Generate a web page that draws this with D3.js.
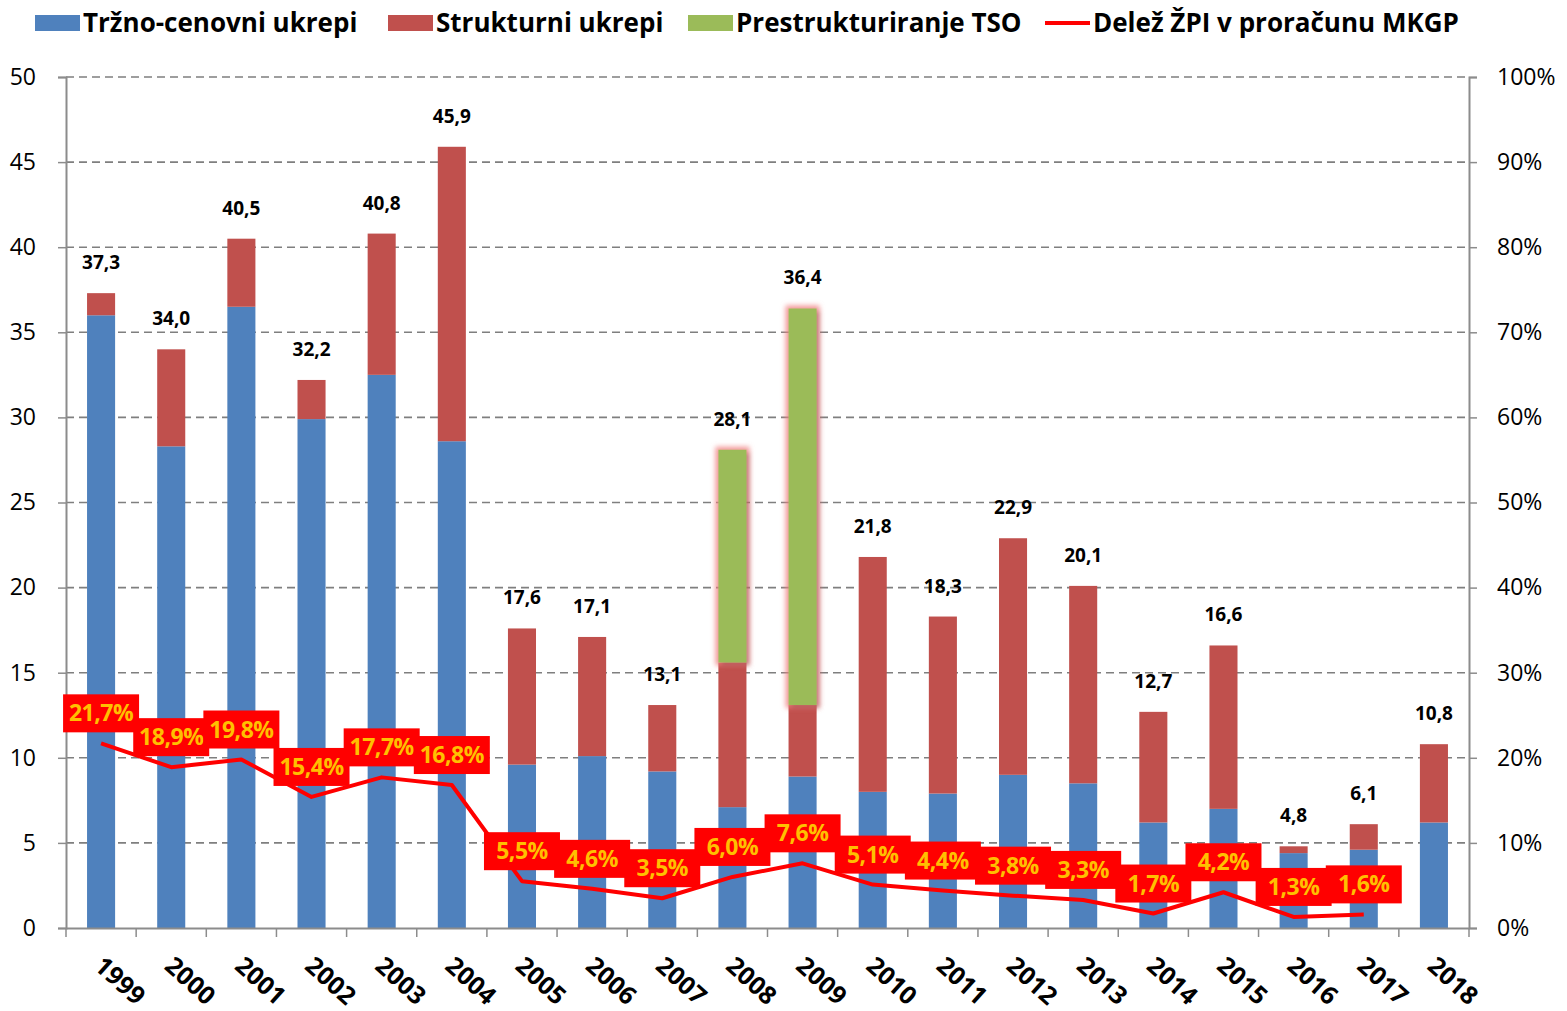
<!DOCTYPE html>
<html>
<head>
<meta charset="utf-8">
<script src="https://cdnjs.cloudflare.com/ajax/libs/d3/7.8.5/d3.min.js"></script>
<style>
  body { margin: 0; background: #fff; }
  text { font-family: "Open Sans", "DejaVu Sans Condensed", sans-serif; }
</style>
</head>
<body>
<div id="chart"></div>
<script>
// data
var years = ["1999","2000","2001","2002","2003","2004","2005","2006","2007","2008","2009",
             "2010","2011","2012","2013","2014","2015","2016","2017","2018"];
var trzno = [36.0, 28.3, 36.5, 29.9, 32.5, 28.6, 9.6, 10.1, 9.2, 7.1, 8.9,
             8.0, 7.9, 9.0, 8.5, 6.2, 7.0, 4.4, 4.6, 6.2];
var totals = [37.3, 34.0, 40.5, 32.2, 40.8, 45.9, 17.6, 17.1, 13.1, 28.1, 36.4,
              21.8, 18.3, 22.9, 20.1, 12.7, 16.6, 4.8, 6.1, 10.8];
var tso = [0, 0, 0, 0, 0, 0, 0, 0, 0, 12.5, 23.3, 0, 0, 0, 0, 0, 0, 0, 0, 0];
var delez = [21.7, 18.9, 19.8, 15.4, 17.7, 16.8, 5.5, 4.6, 3.5, 6.0, 7.6,
             5.1, 4.4, 3.8, 3.3, 1.7, 4.2, 1.3, 1.6, null];
var leftTicks = [0, 5, 10, 15, 20, 25, 30, 35, 40, 45, 50];
var rightTicks = [0, 10, 20, 30, 40, 50, 60, 70, 80, 90, 100];

var colors = { trzno: "#4F81BD", strukt: "#C0504D", tso: "#9BBB59", line: "#FF0000" };

// build stacked rows
var rows = years.map(function(y, i) {
  var strukt = +(totals[i] - trzno[i] - tso[i]).toFixed(1);
  return { year: y, trzno: trzno[i], strukt: strukt, tso: tso[i], total: totals[i], delez: delez[i] };
});

var margin = {top: 77, right: 98, bottom: 83, left: 66},
    width = 1567 - margin.left - margin.right,
    height = 1011 - margin.top - margin.bottom;

var svgRoot = d3.select("#chart").append("svg")
  .attr("width", 1567)
  .attr("height", 1011);

// glow + shadow for the TSO bars
var defs = svgRoot.append("defs");
var f = defs.append("filter").attr("id", "glow")
  .attr("x", "-60%").attr("y", "-10%").attr("width", "220%").attr("height", "120%");
f.append("feMorphology").attr("in", "SourceAlpha").attr("operator", "dilate").attr("radius", 3).attr("result", "dil");
f.append("feGaussianBlur").attr("in", "dil").attr("stdDeviation", 2.5).attr("result", "blur");
f.append("feFlood").attr("flood-color", "#F08080").attr("flood-opacity", 0.8);
f.append("feComposite").attr("in2", "blur").attr("operator", "in").attr("result", "pink");
f.append("feOffset").attr("in", "SourceAlpha").attr("dx", 3).attr("dy", 3).attr("result", "off");
f.append("feGaussianBlur").attr("in", "off").attr("stdDeviation", 2).attr("result", "offBlur");
f.append("feFlood").attr("flood-color", "#000").attr("flood-opacity", 0.35);
f.append("feComposite").attr("in2", "offBlur").attr("operator", "in").attr("result", "shadow");
var fm = f.append("feMerge");
fm.append("feMergeNode").attr("in", "pink");
fm.append("feMergeNode").attr("in", "shadow");
fm.append("feMergeNode").attr("in", "SourceGraphic");

var svg = svgRoot.append("g")
  .attr("transform", "translate(" + margin.left + "," + margin.top + ")");

// scales
var x = d3.scaleBand().domain(years).range([0, width]).paddingInner(0.6).paddingOuter(0.3);
var band = d3.scaleBand().domain(years).range([0, width]);
var y = d3.scaleLinear().domain([0, 50]).range([height, 0]);
var y2 = d3.scaleLinear().domain([0, 100]).range([height, 0]);

// dashed grid
svg.append("g")
  .selectAll("line")
  .data(leftTicks.filter(function(d) { return d > 0; }))
  .enter().append("line")
  .attr("x1", 0).attr("x2", width)
  .attr("y1", function(d) { return y(d); })
  .attr("y2", function(d) { return y(d); })
  .attr("stroke", "#7f7f7f")
  .attr("stroke-width", 1.6)
  .attr("stroke-dasharray", "8,5");

// stacked bars
var stack = d3.stack().keys(["trzno", "strukt", "tso"]);
var series = stack(rows);

svg.append("g")
  .selectAll("g")
  .data(series)
  .enter().append("g")
  .attr("fill", function(d) { return colors[d.key]; })
  .attr("filter", function(d) { return d.key == "tso" ? "url(#glow)" : null; })
  .selectAll("rect")
  .data(function(d) { return d.filter(function(s) { return s[1] - s[0] > 0; }); })
  .enter().append("rect")
  .attr("x", function(d) { return x(d.data.year); })
  .attr("width", x.bandwidth())
  .attr("y", function(d) { return y(d[1]); })
  .attr("height", function(d) { return y(d[0]) - y(d[1]); });

// total labels over bars
svg.append("g")
  .selectAll("text")
  .data(rows)
  .enter().append("text")
  .attr("x", function(d) { return x(d.year) + x.bandwidth() / 2; })
  .attr("y", function(d) { return y(d.total) - 24; })
  .attr("text-anchor", "middle")
  .style("font-size", "19px")
  .style("font-weight", "bold")
  .text(function(d) { return d.total.toFixed(1).replace(".", ","); });

// axes
var xAxis = svg.append("g")
  .attr("transform", "translate(0," + height + ")")
  .call(d3.axisBottom(band).tickSize(0).tickFormat(""));
xAxis.select(".domain").attr("stroke", "#8c8c8c").attr("stroke-width", 2);
// tick marks on band edges
xAxis.selectAll(".edge")
  .data(years.concat(["end"]))
  .enter().append("line")
  .attr("x1", function(d, i) { return i * band.step(); })
  .attr("x2", function(d, i) { return i * band.step(); })
  .attr("y1", 0).attr("y2", 9)
  .attr("stroke", "#8c8c8c")
  .attr("stroke-width", 1.5);

svg.append("g")
  .selectAll("text")
  .data(years)
  .enter().append("text")
  .attr("transform", function(d) {
    return "translate(" + (band(d) + band.bandwidth() / 2 - 8) + "," + (height + 40) + ") rotate(42)";
  })
  .style("font-size", "25px")
  .style("font-weight", "bold")
  .text(function(d) { return d; });

var yAxis = svg.append("g")
  .call(d3.axisLeft(y).tickValues(leftTicks).tickSize(8).tickPadding(22));
yAxis.select(".domain").attr("stroke", "#8c8c8c").attr("stroke-width", 2);
yAxis.selectAll(".tick line").attr("stroke", "#8c8c8c").attr("stroke-width", 1.5);
yAxis.selectAll(".tick text").style("font-size", "23px").attr("fill", "#000");

var yAxis2 = svg.append("g")
  .attr("transform", "translate(" + width + ",0)")
  .call(d3.axisRight(y2).tickValues(rightTicks).tickSize(8).tickPadding(20).tickFormat(function(d) { return d + "%"; }));
yAxis2.select(".domain").attr("stroke", "#8c8c8c").attr("stroke-width", 2);
yAxis2.selectAll(".tick line").attr("stroke", "#8c8c8c").attr("stroke-width", 1.5);
yAxis2.selectAll(".tick text").style("font-size", "23px").attr("fill", "#000");

// line of share
var lineData = rows.filter(function(d) { return d.delez != null; });
svg.append("path")
  .datum(lineData)
  .attr("fill", "none")
  .attr("stroke", colors.line)
  .attr("stroke-width", 4)
  .attr("stroke-linejoin", "round")
  .attr("d", d3.line()
    .x(function(d) { return band(d.year) + band.bandwidth() / 2; })
    .y(function(d) { return y2(d.delez); }));

// labels of the line
var lab = svg.append("g")
  .selectAll("g")
  .data(lineData)
  .enter().append("g")
  .attr("transform", function(d) {
    return "translate(" + (band(d.year) + band.bandwidth() / 2) + "," + (y2(d.delez) - 30) + ")";
  });
lab.append("rect")
  .attr("x", -38).attr("y", -19)
  .attr("width", 76).attr("height", 38)
  .attr("fill", "#FF0000");
lab.append("text")
  .attr("text-anchor", "middle")
  .attr("dy", "0.35em")
  .attr("fill", "#FFC000")
  .style("font-size", "23px")
  .style("font-weight", "bold")
  .style("letter-spacing", "-0.5px")
  .text(function(d) { return d.delez.toFixed(1).replace(".", ",") + "%"; });

// legend
var legendItems = [
  {name: "Tržno-cenovni ukrepi", color: colors.trzno, type: "rect", x: 35},
  {name: "Strukturni ukrepi", color: colors.strukt, type: "rect", x: 388},
  {name: "Prestrukturiranje TSO", color: colors.tso, type: "rect", x: 688},
  {name: "Delež ŽPI v proračunu MKGP", color: colors.line, type: "line", x: 1045}
];
var legend = svgRoot.append("g")
  .selectAll("g")
  .data(legendItems)
  .enter().append("g")
  .attr("transform", function(d) { return "translate(" + d.x + ",23)"; });
legend.filter(function(d) { return d.type == "rect"; })
  .append("rect")
  .attr("x", 0).attr("y", -8).attr("width", 45).attr("height", 16)
  .attr("fill", function(d) { return d.color; });
legend.filter(function(d) { return d.type == "line"; })
  .append("line")
  .attr("x1", 0).attr("x2", 45).attr("y1", 0).attr("y2", 0)
  .attr("stroke", function(d) { return d.color; })
  .attr("stroke-width", 4);
legend.append("text")
  .attr("x", 48)
  .attr("dy", "0.36em")
  .style("font-size", "26px")
  .style("font-weight", "bold")
  .text(function(d) { return d.name; });
</script>
</body>
</html>
